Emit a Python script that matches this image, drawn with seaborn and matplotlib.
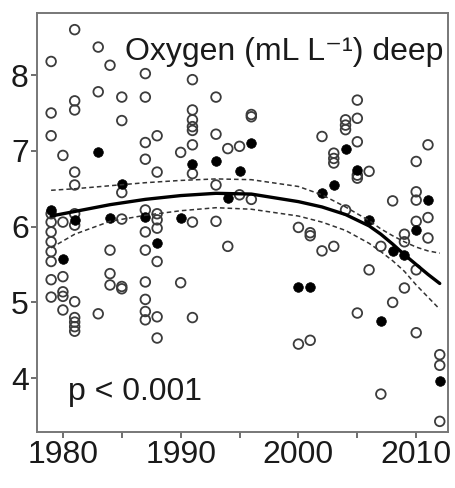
import numpy as np
import pandas as pd
import matplotlib
matplotlib.use("Agg")
import matplotlib.pyplot as plt
import seaborn as sns

# Open circles: individual observations (year, oxygen mL/L)
open_years = ([1979] * 11 + [1980] * 6 + [1981] * 12 + [1983] * 3 + [1984] * 4 + [1985] * 6
              + [1987] * 11 + [1988] * 8 + [1990] * 2 + [1991] * 9 + [1993] * 4 + [1994] * 2
              + [1995] * 2 + [1996] * 3 + [2000] * 2 + [2001] * 3 + [2002] * 2 + [2003] * 4
              + [2004] * 4 + [2005] * 6 + [2006] * 2 + [2007] * 2 + [2008] * 2 + [2009] * 3
              + [2010] * 6 + [2011] * 3 + [2012] * 3)
open_values = [8.18, 7.50, 7.20, 6.17, 6.06, 5.93, 5.80, 5.67, 5.54, 5.30, 5.07,
               6.94, 6.06, 5.34, 5.14, 5.08, 4.90,
               8.60, 7.66, 7.54, 6.72, 6.55, 6.17, 6.02, 5.01, 4.80, 4.74, 4.68, 4.62,
               8.37, 7.78, 4.85,
               8.13, 5.69, 5.38, 5.23,
               7.71, 7.40, 6.45, 6.10, 5.21, 5.18,
               8.02, 7.71, 7.11, 6.89, 6.22, 5.93, 5.69, 5.27, 5.04, 4.88, 4.77,
               7.20, 6.72, 6.17, 6.09, 5.98, 5.54, 4.81, 4.53,
               6.98, 5.26,
               7.94, 7.54, 7.41, 7.32, 7.27, 7.08, 6.70, 6.06, 4.80,
               7.71, 7.22, 6.55, 6.07,
               7.03, 5.74,
               7.06, 6.42,
               7.48, 7.45, 6.36,
               5.99, 4.45,
               5.92, 5.88, 4.50,
               7.19, 5.68,
               6.97, 6.90, 6.84, 5.74,
               7.41, 7.34, 7.28, 6.22,
               7.67, 7.43, 7.12, 6.68, 6.64, 4.86,
               6.73, 5.43,
               5.74, 3.79,
               6.34, 5.00,
               5.90, 5.80, 5.19,
               6.86, 6.46, 6.35, 6.07, 5.43, 4.60,
               7.08, 6.12, 5.85,
               4.31, 4.17, 3.43]

# Filled circles: annual means
filled_years = [1979, 1980, 1981, 1983, 1984, 1985, 1987, 1988, 1990, 1991, 1993, 1994, 1995, 1996,
                2000, 2001, 2002, 2003, 2004, 2005, 2006, 2007, 2008, 2009, 2010, 2011, 2012]
filled_values = [6.22, 5.57, 6.09, 6.99, 6.11, 6.56, 6.13, 5.79, 6.11, 6.83, 6.87, 6.38, 6.74, 7.10,
                 5.21, 5.20, 6.44, 6.55, 7.03, 6.75, 6.09, 4.76, 5.68, 5.63, 5.96, 6.35, 3.96]

# Fitted trend with confidence band
fit_years = [1979, 1981, 1984, 1987, 1990, 1993, 1996, 2000, 2002, 2004, 2006, 2007, 2008, 2009, 2010, 2011, 2012]
fit_mean = [6.14, 6.20, 6.29, 6.36, 6.41, 6.44, 6.43, 6.33, 6.26, 6.16, 6.01, 5.90, 5.77, 5.63, 5.50, 5.37, 5.25]
fit_upper = [6.48, 6.50, 6.54, 6.58, 6.61, 6.63, 6.62, 6.53, 6.42, 6.26, 6.08, 5.97, 5.88, 5.80, 5.73, 5.68, 5.65]
fit_lower = [5.72, 5.90, 6.07, 6.15, 6.21, 6.25, 6.23, 6.14, 6.06, 5.95, 5.78, 5.67, 5.55, 5.41, 5.23, 5.07, 4.91]

sns.set_style("ticks")
plt.rcParams['font.family'] = ['Liberation Sans', 'DejaVu Sans']

fig = plt.figure(figsize=(4.55, 4.88), dpi=100)
ax = fig.add_axes([0.0813, 0.1148, 0.9033, 0.8586])

open_df = pd.DataFrame({"year": open_years, "oxygen": open_values})
filled_df = pd.DataFrame({"year": filled_years, "oxygen": filled_values})
fit_df = pd.DataFrame({"year": fit_years, "mean": fit_mean, "upper": fit_upper, "lower": fit_lower})

sns.scatterplot(data=open_df, x="year", y="oxygen", ax=ax, s=48, facecolor="none",
                edgecolor="#3c3c3c", linewidth=1.3, zorder=2)
sns.scatterplot(data=filled_df, x="year", y="oxygen", ax=ax, s=48, color="black",
                edgecolor="black", linewidth=0.5, zorder=3)

sns.lineplot(data=fit_df, x="year", y="mean", ax=ax, color="black", linewidth=2.4, zorder=4)
for col in ["upper", "lower"]:
    sns.lineplot(data=fit_df, x="year", y=col, ax=ax, color="#333333", linewidth=1.1,
                 linestyle=(0, (3, 2)), zorder=4)

ax.set_xlim(1977.8, 2012.7)
ax.set_ylim(3.29, 8.82)
ax.set_xticks([1980, 1985, 1990, 1995, 2000, 2005, 2010])
ax.set_xticklabels(["1980", "", "1990", "", "2000", "", "2010"])
ax.set_yticks([4, 5, 6, 7, 8])
ax.tick_params(axis="both", labelsize=23, length=4, width=1.2, color="#555555", pad=2,
               labelcolor="#1a1a1a")
ax.set_xlabel("")
ax.set_ylabel("")
for side in ["top", "right", "bottom", "left"]:
    ax.spines[side].set_visible(True)
    ax.spines[side].set_color("#777777")
    ax.spines[side].set_linewidth(1.4)

ax.text(0.988, 0.888, "Oxygen (mL L\u207b\u00b9) deep", transform=ax.transAxes,
        ha="right", va="baseline", fontsize=23, color="#1a1a1a")
ax.text(0.075, 0.076, "p < 0.001", transform=ax.transAxes,
        ha="left", va="baseline", fontsize=23, color="#1a1a1a")

plt.savefig("out.png", dpi=100)
